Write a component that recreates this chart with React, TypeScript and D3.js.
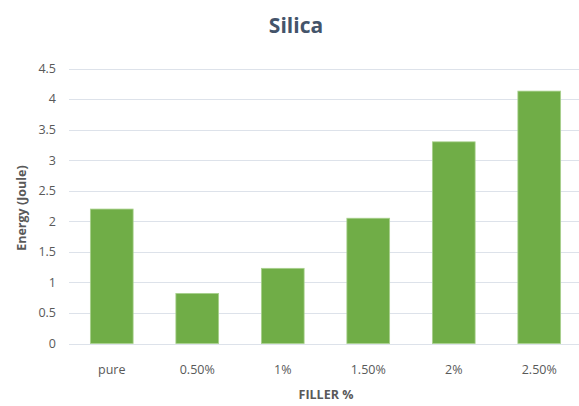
import React, { useRef, useEffect } from 'react';
import * as d3 from 'd3';

const categories = ['pure', '0.50%', '1%', '1.50%', '2%', '2.50%'];
const energy = [2.2, 0.82, 1.23, 2.05, 3.3, 4.13];
const yTicks = [0, 0.5, 1, 1.5, 2, 2.5, 3, 3.5, 4, 4.5];

const W = 579;
const H = 406;
const FONT = "'Open Sans', 'Noto Sans', sans-serif";

const App: React.FC = () => {
  const ref = useRef<SVGSVGElement | null>(null);

  useEffect(() => {
    if (!ref.current) return;
    const svg = d3.select(ref.current);
    svg.selectAll('*').remove();

    const left = 69;
    const right = 582;
    const top = 68.5;
    const bottom = 343.5;

    const x = d3.scaleBand<string>().domain(categories).range([left, right]).paddingInner(0.5).paddingOuter(0.25);
    const y = d3.scaleLinear().domain([0, 4.5]).range([bottom, top]);

    svg.append('rect').attr('width', W).attr('height', H).attr('fill', '#fff');

    // gridlines
    svg.append('g')
      .selectAll('line')
      .data(yTicks)
      .join('line')
      .attr('x1', left)
      .attr('x2', W)
      .attr('y1', (d) => Math.round(y(d)) + 0.5)
      .attr('y2', (d) => Math.round(y(d)) + 0.5)
      .attr('stroke', '#dde2ea')
      .attr('stroke-width', 1.2);

    // y tick labels
    svg.append('g')
      .selectAll('text')
      .data(yTicks)
      .join('text')
      .attr('x', 56)
      .attr('y', (d) => y(d))
      .attr('dy', '0.35em')
      .attr('text-anchor', 'end')
      .attr('font-family', FONT)
      .attr('font-size', 12.5)
      .attr('fill', '#595959')
      .text((d) => String(d));

    // bars
    svg.append('g')
      .selectAll('rect')
      .data(energy)
      .join('rect')
      .attr('x', (_, i) => x(categories[i])!)
      .attr('y', (d) => y(d))
      .attr('width', x.bandwidth())
      .attr('height', (d) => bottom - y(d))
      .attr('fill', '#70ad47')
      .attr('stroke', '#a9d18e')
      .attr('stroke-width', 0.8);

    // x tick labels
    svg.append('g')
      .selectAll('text')
      .data(categories)
      .join('text')
      .attr('x', (d) => x(d)! + x.bandwidth() / 2)
      .attr('y', 370)
      .attr('dy', '0.35em')
      .attr('text-anchor', 'middle')
      .attr('font-family', FONT)
      .attr('font-size', 12.5)
      .attr('fill', '#595959')
      .text((d) => d);

    // title
    svg.append('text')
      .attr('x', 296)
      .attr('y', 33)
      .attr('text-anchor', 'middle')
      .attr('font-family', FONT)
      .attr('font-size', 21)
      .attr('font-weight', 'bold')
      .attr('fill', '#44546a')
      .text('Silica');

    // axis titles
    svg.append('text')
      .attr('transform', `translate(22, ${(top + bottom) / 2 + 2}) rotate(-90)`)
      .attr('text-anchor', 'middle')
      .attr('dy', '0.35em')
      .attr('font-family', FONT)
      .attr('font-size', 12.5)
      .attr('font-weight', 'bold')
      .attr('fill', '#595959')
      .text('Energy (Joule)');

    svg.append('text')
      .attr('x', 326)
      .attr('y', 395)
      .attr('dy', '0.35em')
      .attr('text-anchor', 'middle')
      .attr('font-family', FONT)
      .attr('font-size', 12.5)
      .attr('font-weight', 'bold')
      .attr('fill', '#595959')
      .text('FILLER %');
  }, []);

  return (
    <svg
      ref={ref}
      width={W}
      height={H}
      style={{ position: 'absolute', left: 0, top: 0, display: 'block' }}
    />
  );
};

export default App;
